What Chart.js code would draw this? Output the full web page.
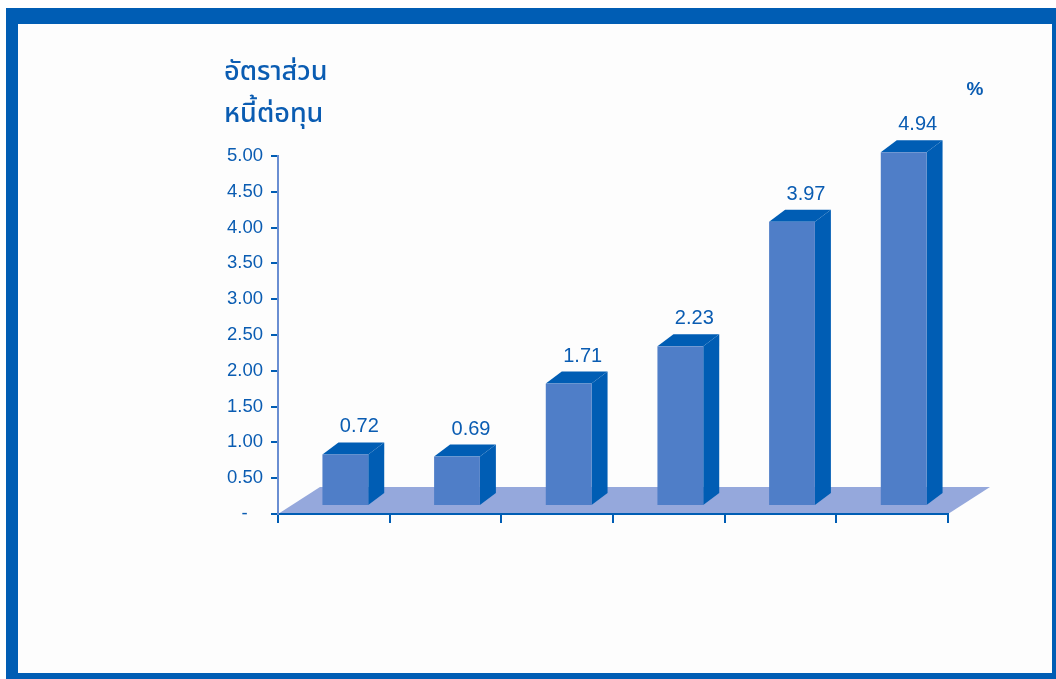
<!DOCTYPE html>
<html>
<head>
<meta charset="utf-8">
<script src="https://cdn.jsdelivr.net/npm/chart.js@4.4.1/dist/chart.umd.min.js"></script>
<style>
  html, body { margin: 0; padding: 0; background: #ffffff; }
  canvas { display: block; }
</style>
</head>
<body>
<canvas id="debtChart" width="1056" height="679"></canvas>
<script>
// data
const categories = ['1', '2', '3', '4', '5', '6'];
const ratioValues = [0.72, 0.69, 1.71, 2.23, 3.97, 4.94];
const yTickLabels = ['-   ', '0.50', '1.00', '1.50', '2.00', '2.50', '3.00', '3.50', '4.00', '4.50', '5.00'];
const titleLines = ['อัตราส่วน', 'หนี้ต่อทุน'];
const unitLabel = '%';

const DARK = '#005db4';
const FRONT = '#4f7ec8';
const FLOOR = '#95a8dc';
const AXIS_LIGHT = '#6a8ed2';
const TEXT = '#0a5cb2';

// 3d look
const FLOOR_DX = 42, FLOOR_DY = -27;
const SHIFT_X = 11.5, SHIFT_Y = -8;
const DEPTH_X = 16, DEPTH_Y = -12;

const backdropPlugin = {
    id: 'backdrop',
    beforeDraw(chart) {
        const ctx = chart.ctx;
        ctx.save();
        // blue frame
        ctx.fillStyle = DARK;
        ctx.fillRect(6, 8, 1050, 671);
        ctx.fillStyle = '#fdfdfd';
        ctx.fillRect(18, 24, 1034, 649);

        // floor
        const xs = chart.scales.x, ys = chart.scales.y;
        const y0 = ys.getPixelForValue(0);
        ctx.fillStyle = FLOOR;
        ctx.beginPath();
        ctx.moveTo(xs.left, y0);
        ctx.lineTo(xs.right, y0);
        ctx.lineTo(xs.right + FLOOR_DX, y0 + FLOOR_DY);
        ctx.lineTo(xs.left + FLOOR_DX, y0 + FLOOR_DY);
        ctx.closePath();
        ctx.fill();
        ctx.restore();
    }
};

const bars3dPlugin = {
    id: 'bars3d',
    afterDatasetsDraw(chart) {
        const ctx = chart.ctx;
        const meta = chart.getDatasetMeta(0);
        ctx.save();
        meta.data.forEach((bar, i) => {
            const { x, y, base, width } = bar.getProps(['x', 'y', 'base', 'width'], true);
            const left = x - width / 2 + SHIFT_X;
            const right = x + width / 2 + SHIFT_X;
            const top = y + SHIFT_Y;
            const bottom = base + SHIFT_Y;

            // side face
            ctx.fillStyle = DARK;
            ctx.beginPath();
            ctx.moveTo(right, top);
            ctx.lineTo(right + DEPTH_X, top + DEPTH_Y);
            ctx.lineTo(right + DEPTH_X, bottom + DEPTH_Y);
            ctx.lineTo(right, bottom);
            ctx.closePath();
            ctx.fill();

            // top face
            ctx.beginPath();
            ctx.moveTo(left, top);
            ctx.lineTo(left + DEPTH_X, top + DEPTH_Y);
            ctx.lineTo(right + DEPTH_X, top + DEPTH_Y);
            ctx.lineTo(right, top);
            ctx.closePath();
            ctx.fill();

            // front face
            ctx.fillStyle = FRONT;
            ctx.fillRect(left, top, right - left, bottom - top);

            // value label
            ctx.fillStyle = TEXT;
            ctx.font = '20px "Liberation Sans", Arial, sans-serif';
            ctx.textAlign = 'center';
            ctx.textBaseline = 'alphabetic';
            ctx.fillText(ratioValues[i].toFixed(2), x + SHIFT_X + 14, top + DEPTH_Y - 10);
        });
        ctx.restore();
    },
    afterDraw(chart) {
        const ctx = chart.ctx;
        ctx.save();
        ctx.fillStyle = TEXT;
        ctx.textAlign = 'left';
        ctx.textBaseline = 'alphabetic';
        ctx.font = '500 27px "Noto Sans Thai", "Noto Sans", "DejaVu Sans", sans-serif';
        ctx.fillText(titleLines[0], 224, 80);
        ctx.fillText(titleLines[1], 224, 122);
        ctx.font = 'bold 19px "Liberation Sans", Arial, sans-serif';
        ctx.textAlign = 'center';
        ctx.fillText(unitLabel, 975, 95);
        ctx.restore();
    }
};

new Chart(document.getElementById('debtChart'), {
    type: 'bar',
    data: {
        labels: categories,
        datasets: [{
            data: ratioValues,
            backgroundColor: 'rgba(0,0,0,0)',
            borderWidth: 0,
            barPercentage: 0.41,
            categoryPercentage: 1
        }]
    },
    options: {
        responsive: false,
        animation: false,
        layout: { padding: { top: 156, right: 108, left: 0, bottom: 0 } },
        plugins: {
            legend: { display: false },
            tooltip: { enabled: false }
        },
        scales: {
            x: {
                grid: {
                    offset: true,
                    drawOnChartArea: false,
                    drawTicks: true,
                    tickLength: 9,
                    color: DARK,
                    lineWidth: 2
                },
                border: { color: DARK, width: 2 },
                ticks: { display: false },
                afterFit(scale) { scale.height = 165; }
            },
            y: {
                min: 0,
                max: 5,
                grid: {
                    drawOnChartArea: false,
                    drawTicks: true,
                    tickLength: 7,
                    color: DARK,
                    lineWidth: 2
                },
                border: { color: AXIS_LIGHT, width: 2 },
                ticks: {
                    stepSize: 0.5,
                    padding: 8,
                    color: TEXT,
                    font: { family: '"Liberation Sans", Arial, sans-serif', size: 18.5 },
                    callback: (value, index) => yTickLabels[index]
                },
                afterFit(scale) { scale.width = 278; }
            }
        }
    },
    plugins: [backdropPlugin, bars3dPlugin]
});
</script>
</body>
</html>
